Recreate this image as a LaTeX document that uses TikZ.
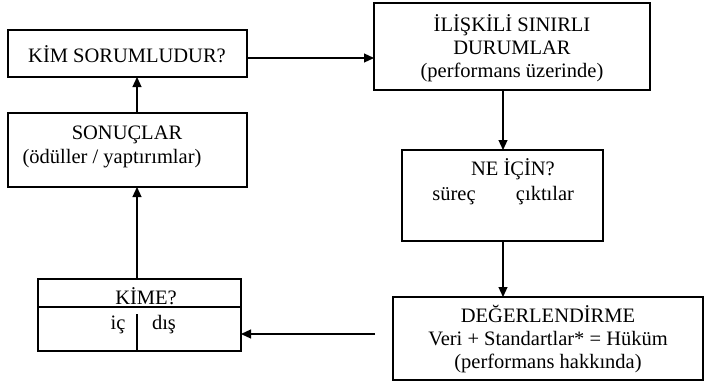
\documentclass[tikz,border=0pt]{standalone}
\usepackage{fontspec}
\setmainfont{Liberation Serif}
\usetikzlibrary{arrows.meta}
\begin{document}
\begin{tikzpicture}[x=1pt,y=-1pt,
  box/.style={draw,line width=1.4pt},
  lbl/.style={inner sep=0pt,anchor=base,font=\fontsize{20.5}{23}\selectfont},
  arr/.style={line width=1.2pt,-{Triangle[length=10pt,width=9pt]}},
  ln/.style={line width=1.2pt}]
\useasboundingbox (0,0) rectangle (705,381);
% boxes
\draw[box] (8,30) rectangle (247,77);
\node[lbl] (kimt) at (127,62) {KİM SORUMLUDUR?};
\draw[box] (8,113) rectangle (247,187);
\node[lbl] (sont1) at (127,139) {SONUÇLAR};
\node[lbl] (sont2) at (112,163) {(ödüller / yaptırımlar)};
\draw[box] (374,3) rectangle (650,90);
\node[lbl] (ilt1) at (512,31) {İLİŞKİLİ SINIRLI};
\node[lbl] (ilt2) at (512,54) {DURUMLAR};
\node[lbl] (ilt3) at (512,77) {(performans üzerinde)};
\draw[box] (402,150) rectangle (603,241);
\node[lbl] (net1) at (513,175) {NE İÇİN?};
\node[lbl] (net2) at (454,200) {süreç};
\node[lbl] (net3) at (545,200) {çıktılar};
\draw[box] (393,297) rectangle (703,380);
\node[lbl] (dt1) at (548,322) {DEĞERLENDİRME};
\node[lbl] (dt2) at (548,345) {Veri + Standartlar* = Hüküm};
\node[lbl] (dt3) at (548,368) {(performans hakkında)};
\draw[box] (38,279) rectangle (241,351);
\draw[box] (38,307) -- (241,307);
\draw[box] (137,314) -- (137,351);
\node[lbl] (kmt1) at (146,304.5) {KİME?};
\node[lbl] (kmt2) at (118,329) {iç};
\node[lbl] (kmt3) at (164,329) {dış};
% connector anchors
\coordinate (kimE) at (247,58);
\coordinate (ilW) at (374,58);
\coordinate (ilS) at (503,90);
\coordinate (neN) at (503,150);
\coordinate (neS) at (503,241);
\coordinate (dN) at (503,297);
\coordinate (dfree) at (375,334);
\coordinate (kmE) at (241,334);
\coordinate (kmN) at (137,279);
\coordinate (sS) at (137,187);
\coordinate (sN) at (137,113);
\coordinate (kS) at (137,77);
\draw[arr] (kimE) -- (ilW);
\draw[arr] (ilS) -- (neN);
\draw[arr] (neS) -- (dN);
\draw[arr] (dfree) -- (kmE);
\draw[arr] (kmN) -- (sS);
\draw[arr] (sN) -- (kS);
\end{tikzpicture}
\end{document}
